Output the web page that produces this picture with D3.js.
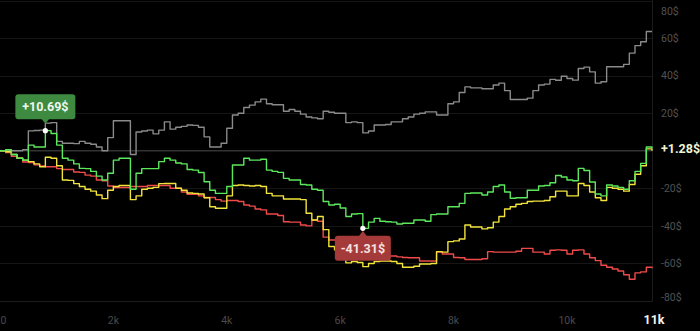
<!DOCTYPE html>
<html><head><meta charset="utf-8">
<script src="https://cdn.jsdelivr.net/npm/d3@7"></script>
<style>html,body{margin:0;padding:0;background:#000;overflow:hidden}svg{display:block}</style>
</head><body><svg id="c" width="700" height="331"></svg>
<script>
// ---- data ----
const tradeStep = 100; // trades between samples
const xTicks = [0, 2000, 4000, 6000, 8000, 10000];
const xTickLabels = ["0", "2k", "4k", "6k", "8k", "10k"];
const xEndLabel = "11k";
const yTicks = [80, 60, 40, 20, -20, -40, -60, -80];
const lastLabel = "+1.28$";

const greySeries = [0,0,0,0,0.5,10.6,10.8,11,14.7,15,5,4,4,3.8,5,4,3.5,2,0,7,
 16,16,16,-2,10,10.5,11,9,11,15.4,11.5,12.5,13,13.7,13.5,12.5,7.4,2,2,4,
 12,19,20,23,24.3,26,27.5,25,24.5,24.5,21,22,21,19.5,18,17.5,17,21,20.5,20,
 20,15,15.4,15,9.5,10.5,13.7,13.7,14,15.4,15.4,17,18,19.5,20,20.7,20.7,19,19,25,
 26,31,34,33.5,33.5,33,33,35,36,32,27.3,27.3,27.3,28,32,35,35.5,38,37.5,39.7,
 38.5,37.6,43.8,44.5,42,36,36.7,44.7,44.7,44.7,46,52,56,58,63.5,63.5];

const greenSeries = [0,0.5,-2,-4,-5,3,2,2,10.69,9.2,3,-4,-5,-7,-9.4,-9.5,-11,-13.5,-15.6,-12,
 -5,-4,-4,-20.5,-12,-9.5,-9.5,-9.5,-5.8,-4,-5,-6.5,-7,-10,-10.3,-11.6,-16.5,-21,-22.7,-22.7,
 -19,-7.6,-7.6,-4,-5,-5,-4.5,-10.3,-11,-11.5,-14.7,-15.6,-15.6,-18,-18.2,-20.5,-21,-27,-28.9,-28.5,
 -30.5,-35,-33.7,-33.5,-41.31,-38,-36,-37.5,-37.8,-38,-39,-38.6,-38.6,-36.9,-36.9,-37.5,-34,-33.7,-33.7,-29.8,
 -29.8,-28,-22.7,-22.5,-22.5,-23.6,-22,-19,-18.2,-22,-25.3,-25,-25,-21,-21,-18.8,-18.5,-17,-13.2,-14,
 -15.6,-16,-9.4,-10.5,-16.6,-23,-24,-18.2,-18.8,-19.5,-20.5,-16,-11,-6.7,2,1.28];

const yellowSeries = [0,-0.5,-2,-4,-5,-5.8,-7,-8.5,-3.5,-4,-8,-15.6,-15.8,-17.5,-19,-20.5,-21.5,-23.6,-25.5,-21,
 -19,-18.5,-18.5,-26,-24,-20.5,-20,-19.5,-17.5,-17.4,-17.4,-20,-21,-22.5,-22.7,-23,-25,-29.8,-30.6,-30.6,
 -24,-18.5,-18.2,-18.5,-18.8,-18.5,-19,-22.7,-24,-24,-25.7,-25.7,-25.7,-26,-33.3,-36.9,-35,-42,-51,-52.8,
 -53,-59.7,-59,-59.5,-61.7,-60,-59,-58.7,-58.7,-59,-60,-62,-62,-61.5,-60.3,-60.3,-60,-53.7,-54,-48.4,
 -48,-47,-39.5,-40.6,-40.6,-41.6,-41,-38,-35,-31,-29.8,-28.5,-28,-27,-26.8,-26.8,-26.5,-24.5,-21.5,-21.5,
 -24,-24,-17.4,-18.5,-22,-25,-26.5,-19.5,-20,-20.5,-21.5,-18,-12.5,-8,1,0];

const redSeries = [0,-1,-3,-4,-6,-6.3,-7.5,-8.1,-8.5,-8.5,-9.5,-10,-10,-11.3,-11.5,-13,-13.5,-15.6,-16,-18.8,
 -19.6,-19.6,-19.6,-19,-19,-19,-18.5,-18.5,-18.5,-18.5,-20,-20,-22,-23.2,-23.2,-24,-24.9,-24.9,-26,-26.8,
 -26.5,-26.5,-27,-28.9,-29.5,-31,-31.5,-33.7,-33.7,-34.5,-37.8,-38,-38,-39.5,-40,-37,-37.5,-46,-47.5,-47.5,
 -48.4,-51,-52,-54.6,-54.6,-55,-55,-56,-56,-56,-56.5,-56.8,-57,-57,-58.7,-58.7,-58.7,-54,-55,-55,
 -56.8,-57,-57.9,-57.9,-57.9,-57.5,-53.7,-54,-54,-54,-54,-53.5,-52,-52,-54,-54,-55,-53,-52.8,-53,
 -55,-53,-52.8,-55,-57,-58.5,-61,-62,-63,-64,-66,-68.4,-65,-64.5,-62,-62.5];

const peak = { index: 8, value: 10.69, label: "+10.69$" };
const trough = { index: 64, value: -41.31, label: "-41.31$" };

// ---- drawing ----
const svg = d3.select("#c");
svg.append("rect").attr("width", 700).attr("height", 331).attr("fill", "#000");

const plotRight = 652.5, plotBottom = 301.5;
const x = d3.scaleLinear().domain([0, 11500]).range([0, 652]);
const y = d3.scaleLinear().domain([-80, 80]).range([301, 0.5]);

const g = svg.append("g");

// grid lines
g.selectAll("line.grid").data(yTicks).enter().append("line")
  .attr("x1", 0).attr("x2", plotRight)
  .attr("y1", d => Math.round(y(d)) + 0.5).attr("y2", d => Math.round(y(d)) + 0.5)
  .attr("stroke", "#161616").attr("stroke-width", 1);
// zero line
g.append("line").attr("x1", 0).attr("x2", plotRight)
  .attr("y1", y(0)).attr("y2", y(0))
  .attr("stroke", "#333").attr("stroke-width", 1.5);
// plot frame (right and bottom)
g.append("line").attr("x1", plotRight).attr("x2", plotRight).attr("y1", 0).attr("y2", plotBottom)
  .attr("stroke", "#1c1c1c");
g.append("line").attr("x1", 0).attr("x2", plotRight).attr("y1", plotBottom).attr("y2", plotBottom)
  .attr("stroke", "#1c1c1c");

// lines
const line = d3.line()
  .x((d, i) => x(i * tradeStep))
  .y(d => y(d))
  .curve(d3.curveStepAfter);

const series = [
  { data: greySeries, color: "#8a8a8a" },
  { data: redSeries, color: "#f04a4a" },
  { data: yellowSeries, color: "#f2e43c" },
  { data: greenSeries, color: "#5ce85c" }
];
series.forEach(s => {
  g.append("path").datum(s.data).attr("d", line)
    .attr("fill", "none").attr("stroke", s.color)
    .attr("stroke-width", 1.4).attr("stroke-linejoin", "round");
});

// y axis labels (right side)
const yAxisG = svg.append("g");
yTicks.forEach(t => {
  const yy = Math.max(11, Math.min(297, y(t)));
  yAxisG.append("text").attr("x", 661).attr("y", yy)
    .attr("dy", "0.35em").attr("fill", "#525252")
    .attr("font-family", "Roboto, 'Liberation Sans', sans-serif").attr("font-size", 10.5)
    .text(t + "$");
});
// last value label
yAxisG.append("text").attr("x", 661).attr("y", y(greenSeries[greenSeries.length - 1]))
  .attr("dy", "0.35em").attr("fill", "#eef3d2")
  .attr("font-family", "Roboto, 'Liberation Sans', sans-serif").attr("font-size", 12.5).attr("font-weight", "bold")
  .text(lastLabel);

// x axis labels
xTicks.forEach((t, i) => {
  svg.append("text").attr("x", i === 0 ? 0.5 : x(t)).attr("y", 320)
    .attr("dy", "0.35em").attr("text-anchor", i === 0 ? "start" : "middle")
    .attr("fill", "#4a4a4a")
    .attr("font-family", "Roboto, 'Liberation Sans', sans-serif").attr("font-size", 10.5)
    .text(xTickLabels[i]);
});
svg.append("text").attr("x", 654).attr("y", 320).attr("dy", "0.35em")
  .attr("text-anchor", "middle").attr("fill", "#f4f4f4")
  .attr("font-family", "Roboto, 'Liberation Sans', sans-serif").attr("font-size", 12.5).attr("font-weight", "bold")
  .text(xEndLabel);

// annotations
function annotate(p, above, fill, textFill, w) {
  const px = x(p.index * tradeStep), py = y(p.value);
  const h = 25;
  const ann = svg.append("g");
  let boxY, tipY, baseY;
  if (above) { boxY = py - 11.5 - h; baseY = py - 11.5; tipY = py - 7; }
  else { boxY = py + 7.5; baseY = py + 7.5; tipY = py + 2.5; }
  ann.append("rect").attr("x", px - w / 2).attr("y", boxY).attr("width", w).attr("height", h)
    .attr("rx", 3).attr("fill", fill);
  ann.append("path")
    .attr("d", `M${px - 4},${baseY + (above ? -0.5 : 0.5)} L${px},${tipY} L${px + 4},${baseY + (above ? -0.5 : 0.5)} Z`)
    .attr("fill", fill);
  ann.append("text").attr("x", px).attr("y", boxY + h / 2).attr("dy", "0.36em")
    .attr("text-anchor", "middle").attr("fill", textFill)
    .attr("font-family", "Roboto, 'Liberation Sans', sans-serif").attr("font-size", 12.5).attr("font-weight", "bold")
    .text(p.label);
  ann.append("circle").attr("cx", px).attr("cy", py).attr("r", 2.6).attr("fill", "#fff");
}
annotate(peak, true, "#3d8a40", "#eef7ee", 60);
annotate(trough, false, "#a53a3a", "#f6e2e2", 56);
</script></body></html>
